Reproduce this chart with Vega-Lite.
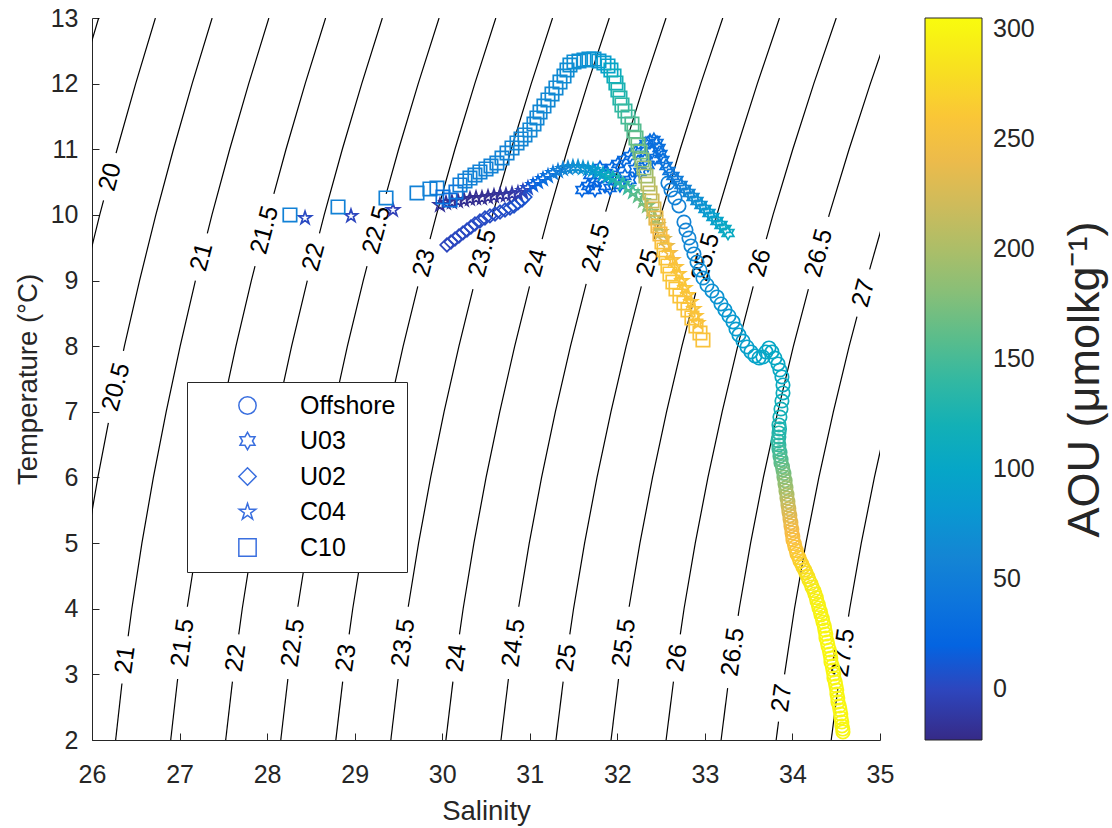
{
  "$schema": "https://vega.github.io/schema/vega-lite/v6.json",
  "width": 788,
  "height": 722,
  "autosize": {"type": "none"},
  "padding": {"left": 92, "top": 18, "right": 232, "bottom": 88},
  "background": "white",
  "config": {
    "view": {"stroke": null},
    "axis": {"labelFont": "Liberation Sans", "titleFont": "Liberation Sans", "titleFontWeight": "normal", "grid": false},
    "legend": {"labelFont": "Liberation Sans"},
    "text": {"font": "Liberation Sans"}
  },
  "datasets": {
    "contours": [
      {"seg": "19.5a", "S": 25.644, "T": 11}, {"seg": "19.5a", "S": 25.853, "T": 12}, {"seg": "19.5a", "S": 26.076, "T": 13},
      {"seg": "20a", "S": 25.904, "T": 9}, {"seg": "20a", "S": 26.088, "T": 10}, {"seg": "20a", "S": 26.132, "T": 10.22},
      {"seg": "20b", "S": 26.275, "T": 10.94}, {"seg": "20b", "S": 26.287, "T": 11}, {"seg": "20b", "S": 26.499, "T": 12}, {"seg": "20b", "S": 26.724, "T": 13},
      {"seg": "20.5a", "S": 25.938, "T": 5}, {"seg": "20.5a", "S": 26.067, "T": 6}, {"seg": "20.5a", "S": 26.187, "T": 6.83},
      {"seg": "20.5b", "S": 26.359, "T": 7.93}, {"seg": "20.5b", "S": 26.370, "T": 8}, {"seg": "20.5b", "S": 26.543, "T": 9}, {"seg": "20.5b", "S": 26.729, "T": 10}, {"seg": "20.5b", "S": 26.930, "T": 11}, {"seg": "20.5b", "S": 27.144, "T": 12}, {"seg": "20.5b", "S": 27.372, "T": 13},
      {"seg": "21a", "S": 26.270, "T": 2}, {"seg": "21a", "S": 26.342, "T": 2.86},
      {"seg": "21b", "S": 26.413, "T": 3.58}, {"seg": "21b", "S": 26.455, "T": 4}, {"seg": "21b", "S": 26.570, "T": 5}, {"seg": "21b", "S": 26.701, "T": 6}, {"seg": "21b", "S": 26.847, "T": 7}, {"seg": "21b", "S": 27.007, "T": 8}, {"seg": "21b", "S": 27.181, "T": 9},
      {"seg": "21c", "S": 27.317, "T": 9.72}, {"seg": "21c", "S": 27.370, "T": 10}, {"seg": "21c", "S": 27.573, "T": 11}, {"seg": "21c", "S": 27.790, "T": 12}, {"seg": "21c", "S": 28.020, "T": 13},
      {"seg": "21.5a", "S": 26.899, "T": 2}, {"seg": "21.5a", "S": 26.978, "T": 2.93},
      {"seg": "21.5b", "S": 27.089, "T": 4.03}, {"seg": "21.5b", "S": 27.202, "T": 5}, {"seg": "21.5b", "S": 27.335, "T": 6}, {"seg": "21.5b", "S": 27.482, "T": 7}, {"seg": "21.5b", "S": 27.644, "T": 8}, {"seg": "21.5b", "S": 27.820, "T": 9}, {"seg": "21.5b", "S": 27.862, "T": 9.22},
      {"seg": "21.5c", "S": 28.077, "T": 10.32}, {"seg": "21.5c", "S": 28.216, "T": 11}, {"seg": "21.5c", "S": 28.435, "T": 12}, {"seg": "21.5c", "S": 28.668, "T": 13},
      {"seg": "22a", "S": 27.527, "T": 2}, {"seg": "22a", "S": 27.604, "T": 2.89},
      {"seg": "22b", "S": 27.676, "T": 3.61}, {"seg": "22b", "S": 27.716, "T": 4}, {"seg": "22b", "S": 27.834, "T": 5}, {"seg": "22b", "S": 27.968, "T": 6}, {"seg": "22b", "S": 28.116, "T": 7}, {"seg": "22b", "S": 28.280, "T": 8}, {"seg": "22b", "S": 28.459, "T": 9},
      {"seg": "22c", "S": 28.598, "T": 9.72}, {"seg": "22c", "S": 28.652, "T": 10}, {"seg": "22c", "S": 28.859, "T": 11}, {"seg": "22c", "S": 29.081, "T": 12}, {"seg": "22c", "S": 29.316, "T": 13},
      {"seg": "22.5a", "S": 28.156, "T": 2}, {"seg": "22.5a", "S": 28.237, "T": 2.93},
      {"seg": "22.5b", "S": 28.351, "T": 4.03}, {"seg": "22.5b", "S": 28.466, "T": 5}, {"seg": "22.5b", "S": 28.601, "T": 6}, {"seg": "22.5b", "S": 28.752, "T": 7}, {"seg": "22.5b", "S": 28.917, "T": 8}, {"seg": "22.5b", "S": 29.098, "T": 9}, {"seg": "22.5b", "S": 29.141, "T": 9.22},
      {"seg": "22.5c", "S": 29.360, "T": 10.32}, {"seg": "22.5c", "S": 29.502, "T": 11}, {"seg": "22.5c", "S": 29.726, "T": 12}, {"seg": "22.5c", "S": 29.964, "T": 13},
      {"seg": "23a", "S": 28.785, "T": 2}, {"seg": "23a", "S": 28.863, "T": 2.89},
      {"seg": "23b", "S": 28.937, "T": 3.61}, {"seg": "23b", "S": 28.978, "T": 4}, {"seg": "23b", "S": 29.098, "T": 5}, {"seg": "23b", "S": 29.235, "T": 6}, {"seg": "23b", "S": 29.387, "T": 7}, {"seg": "23b", "S": 29.554, "T": 8}, {"seg": "23b", "S": 29.721, "T": 8.91},
      {"seg": "23c", "S": 29.861, "T": 9.63}, {"seg": "23c", "S": 29.934, "T": 10}, {"seg": "23c", "S": 30.145, "T": 11}, {"seg": "23c", "S": 30.372, "T": 12}, {"seg": "23c", "S": 30.612, "T": 13},
      {"seg": "23.5a", "S": 29.413, "T": 2}, {"seg": "23.5a", "S": 29.496, "T": 2.93},
      {"seg": "23.5b", "S": 29.612, "T": 4.03}, {"seg": "23.5b", "S": 29.730, "T": 5}, {"seg": "23.5b", "S": 29.868, "T": 6}, {"seg": "23.5b", "S": 30.021, "T": 7}, {"seg": "23.5b", "S": 30.191, "T": 8}, {"seg": "23.5b", "S": 30.351, "T": 8.87},
      {"seg": "23.5c", "S": 30.568, "T": 9.97}, {"seg": "23.5c", "S": 30.574, "T": 10}, {"seg": "23.5c", "S": 30.788, "T": 11}, {"seg": "23.5c", "S": 31.017, "T": 12}, {"seg": "23.5c", "S": 31.260, "T": 13},
      {"seg": "24a", "S": 30.042, "T": 2}, {"seg": "24a", "S": 30.122, "T": 2.89},
      {"seg": "24b", "S": 30.197, "T": 3.61}, {"seg": "24b", "S": 30.239, "T": 4}, {"seg": "24b", "S": 30.362, "T": 5}, {"seg": "24b", "S": 30.501, "T": 6}, {"seg": "24b", "S": 30.657, "T": 7}, {"seg": "24b", "S": 30.828, "T": 8}, {"seg": "24b", "S": 30.997, "T": 8.91},
      {"seg": "24c", "S": 31.141, "T": 9.63}, {"seg": "24c", "S": 31.215, "T": 10}, {"seg": "24c", "S": 31.431, "T": 11}, {"seg": "24c", "S": 31.662, "T": 12}, {"seg": "24c", "S": 31.908, "T": 13},
      {"seg": "24.5a", "S": 30.671, "T": 2}, {"seg": "24.5a", "S": 30.756, "T": 2.93},
      {"seg": "24.5b", "S": 30.874, "T": 4.03}, {"seg": "24.5b", "S": 30.994, "T": 5}, {"seg": "24.5b", "S": 31.135, "T": 6}, {"seg": "24.5b", "S": 31.292, "T": 7}, {"seg": "24.5b", "S": 31.465, "T": 8}, {"seg": "24.5b", "S": 31.644, "T": 8.95},
      {"seg": "24.5c", "S": 31.867, "T": 10.05}, {"seg": "24.5c", "S": 32.075, "T": 11}, {"seg": "24.5c", "S": 32.308, "T": 12}, {"seg": "24.5c", "S": 32.556, "T": 13},
      {"seg": "25a", "S": 31.299, "T": 2}, {"seg": "25a", "S": 31.381, "T": 2.89},
      {"seg": "25b", "S": 31.457, "T": 3.61}, {"seg": "25b", "S": 31.500, "T": 4}, {"seg": "25b", "S": 31.626, "T": 5}, {"seg": "25b", "S": 31.768, "T": 6}, {"seg": "25b", "S": 31.927, "T": 7}, {"seg": "25b", "S": 32.101, "T": 8}, {"seg": "25b", "S": 32.274, "T": 8.91},
      {"seg": "25c", "S": 32.421, "T": 9.63}, {"seg": "25c", "S": 32.497, "T": 10}, {"seg": "25c", "S": 32.718, "T": 11}, {"seg": "25c", "S": 32.953, "T": 12}, {"seg": "25c", "S": 33.204, "T": 13},
      {"seg": "25.5a", "S": 31.928, "T": 2}, {"seg": "25.5a", "S": 32.014, "T": 2.93},
      {"seg": "25.5b", "S": 32.135, "T": 4.03}, {"seg": "25.5b", "S": 32.258, "T": 5}, {"seg": "25.5b", "S": 32.402, "T": 6}, {"seg": "25.5b", "S": 32.562, "T": 7}, {"seg": "25.5b", "S": 32.738, "T": 8}, {"seg": "25.5b", "S": 32.894, "T": 8.81},
      {"seg": "25.5c", "S": 33.118, "T": 9.91}, {"seg": "25.5c", "S": 33.137, "T": 10}, {"seg": "25.5c", "S": 33.361, "T": 11}, {"seg": "25.5c", "S": 33.599, "T": 12}, {"seg": "25.5c", "S": 33.852, "T": 13},
      {"seg": "26a", "S": 32.557, "T": 2}, {"seg": "26a", "S": 32.641, "T": 2.89},
      {"seg": "26b", "S": 32.719, "T": 3.61}, {"seg": "26b", "S": 32.762, "T": 4}, {"seg": "26b", "S": 32.890, "T": 5}, {"seg": "26b", "S": 33.035, "T": 6}, {"seg": "26b", "S": 33.197, "T": 7}, {"seg": "26b", "S": 33.375, "T": 8}, {"seg": "26b", "S": 33.552, "T": 8.91},
      {"seg": "26c", "S": 33.701, "T": 9.63}, {"seg": "26c", "S": 33.778, "T": 10}, {"seg": "26c", "S": 34.004, "T": 11}, {"seg": "26c", "S": 34.244, "T": 12}, {"seg": "26c", "S": 34.500, "T": 13},
      {"seg": "26.5a", "S": 33.185, "T": 2}, {"seg": "26.5a", "S": 33.260, "T": 2.79},
      {"seg": "26.5b", "S": 33.380, "T": 3.89}, {"seg": "26.5b", "S": 33.392, "T": 4}, {"seg": "26.5b", "S": 33.522, "T": 5}, {"seg": "26.5b", "S": 33.668, "T": 6}, {"seg": "26.5b", "S": 33.832, "T": 7}, {"seg": "26.5b", "S": 34.011, "T": 8}, {"seg": "26.5b", "S": 34.182, "T": 8.87},
      {"seg": "26.5c", "S": 34.413, "T": 9.97}, {"seg": "26.5c", "S": 34.419, "T": 10}, {"seg": "26.5c", "S": 34.647, "T": 11}, {"seg": "26.5c", "S": 34.890, "T": 12}, {"seg": "26.5c", "S": 35.148, "T": 13},
      {"seg": "27a", "S": 33.814, "T": 2}, {"seg": "27a", "S": 33.841, "T": 2.28},
      {"seg": "27b", "S": 33.910, "T": 3}, {"seg": "27b", "S": 34.023, "T": 4}, {"seg": "27b", "S": 34.154, "T": 5}, {"seg": "27b", "S": 34.302, "T": 6}, {"seg": "27b", "S": 34.467, "T": 7}, {"seg": "27b", "S": 34.648, "T": 8}, {"seg": "27b", "S": 34.737, "T": 8.45},
      {"seg": "27c", "S": 34.882, "T": 9.17}, {"seg": "27c", "S": 35.060, "T": 10},
      {"seg": "27.5a", "S": 34.443, "T": 2}, {"seg": "27.5a", "S": 34.518, "T": 2.78},
      {"seg": "27.5b", "S": 34.640, "T": 3.88}, {"seg": "27.5b", "S": 34.654, "T": 4}, {"seg": "27.5b", "S": 34.786, "T": 5}, {"seg": "27.5b", "S": 34.936, "T": 6}, {"seg": "27.5b", "S": 35.102, "T": 7}
    ],
    "labels": [
      {"label": "21", "row": "lower", "S": 26.376, "T": 3.22},
      {"label": "21.5", "row": "lower", "S": 27.033, "T": 3.48},
      {"label": "22", "row": "lower", "S": 27.639, "T": 3.25},
      {"label": "22.5", "row": "lower", "S": 28.293, "T": 3.48},
      {"label": "23", "row": "lower", "S": 28.899, "T": 3.25},
      {"label": "23.5", "row": "lower", "S": 29.553, "T": 3.48},
      {"label": "24", "row": "lower", "S": 30.159, "T": 3.25},
      {"label": "24.5", "row": "lower", "S": 30.814, "T": 3.48},
      {"label": "25", "row": "lower", "S": 31.418, "T": 3.25},
      {"label": "25.5", "row": "lower", "S": 32.074, "T": 3.48},
      {"label": "26", "row": "lower", "S": 32.679, "T": 3.25},
      {"label": "26.5", "row": "lower", "S": 33.318, "T": 3.34},
      {"label": "27", "row": "lower", "S": 33.875, "T": 2.64},
      {"label": "27.5", "row": "lower", "S": 34.577, "T": 3.33},
      {"label": "20", "row": "upper", "S": 26.203, "T": 10.58},
      {"label": "20.5", "row": "upper", "S": 26.271, "T": 7.38},
      {"label": "21", "row": "upper", "S": 27.249, "T": 9.36},
      {"label": "21.5", "row": "upper", "S": 27.967, "T": 9.77},
      {"label": "22", "row": "upper", "S": 28.528, "T": 9.36},
      {"label": "22.5", "row": "upper", "S": 29.248, "T": 9.77},
      {"label": "23", "row": "upper", "S": 29.790, "T": 9.27},
      {"label": "23.5", "row": "upper", "S": 30.459, "T": 9.42},
      {"label": "24", "row": "upper", "S": 31.068, "T": 9.27},
      {"label": "24.5", "row": "upper", "S": 31.755, "T": 9.50},
      {"label": "25", "row": "upper", "S": 32.347, "T": 9.27},
      {"label": "25.5", "row": "upper", "S": 33.005, "T": 9.36},
      {"label": "26", "row": "upper", "S": 33.625, "T": 9.27},
      {"label": "26.5", "row": "upper", "S": 34.296, "T": 9.42},
      {"label": "27", "row": "upper", "S": 34.808, "T": 8.81}
    ],
    "pts": [
      {"st": "Offshore", "S": 32.578, "T": 10.486, "AOU": 52},
      {"st": "Offshore", "S": 32.613, "T": 10.380, "AOU": 53},
      {"st": "Offshore", "S": 32.658, "T": 10.258, "AOU": 55},
      {"st": "Offshore", "S": 32.704, "T": 10.136, "AOU": 57},
      {"st": "Offshore", "S": 32.761, "T": 9.892, "AOU": 58},
      {"st": "Offshore", "S": 32.784, "T": 9.770, "AOU": 60},
      {"st": "Offshore", "S": 32.818, "T": 9.648, "AOU": 61},
      {"st": "Offshore", "S": 32.841, "T": 9.527, "AOU": 62},
      {"st": "Offshore", "S": 32.875, "T": 9.405, "AOU": 64},
      {"st": "Offshore", "S": 32.910, "T": 9.283, "AOU": 66},
      {"st": "Offshore", "S": 32.944, "T": 9.161, "AOU": 68},
      {"st": "Offshore", "S": 32.978, "T": 9.039, "AOU": 70},
      {"st": "Offshore", "S": 33.024, "T": 8.932, "AOU": 72},
      {"st": "Offshore", "S": 33.081, "T": 8.841, "AOU": 74},
      {"st": "Offshore", "S": 33.138, "T": 8.750, "AOU": 76},
      {"st": "Offshore", "S": 33.184, "T": 8.643, "AOU": 78},
      {"st": "Offshore", "S": 33.229, "T": 8.552, "AOU": 80},
      {"st": "Offshore", "S": 33.275, "T": 8.460, "AOU": 82},
      {"st": "Offshore", "S": 33.321, "T": 8.369, "AOU": 84},
      {"st": "Offshore", "S": 33.355, "T": 8.262, "AOU": 86},
      {"st": "Offshore", "S": 33.389, "T": 8.171, "AOU": 88},
      {"st": "Offshore", "S": 33.435, "T": 8.079, "AOU": 90},
      {"st": "Offshore", "S": 33.481, "T": 7.988, "AOU": 92},
      {"st": "Offshore", "S": 33.526, "T": 7.912, "AOU": 94},
      {"st": "Offshore", "S": 33.572, "T": 7.851, "AOU": 96},
      {"st": "Offshore", "S": 33.618, "T": 7.820, "AOU": 98},
      {"st": "Offshore", "S": 33.663, "T": 7.835, "AOU": 100},
      {"st": "Offshore", "S": 33.698, "T": 7.912, "AOU": 101},
      {"st": "Offshore", "S": 33.732, "T": 7.973, "AOU": 102},
      {"st": "Offshore", "S": 33.766, "T": 7.912, "AOU": 103},
      {"st": "Offshore", "S": 33.800, "T": 7.820, "AOU": 104},
      {"st": "Offshore", "S": 33.835, "T": 7.729, "AOU": 105},
      {"st": "Offshore", "S": 33.857, "T": 7.637, "AOU": 106},
      {"st": "Offshore", "S": 33.880, "T": 7.531, "AOU": 107},
      {"st": "Offshore", "S": 33.892, "T": 7.409, "AOU": 109},
      {"st": "Offshore", "S": 33.892, "T": 7.287, "AOU": 112},
      {"st": "Offshore", "S": 33.880, "T": 7.165, "AOU": 115},
      {"st": "Offshore", "S": 33.869, "T": 7.043, "AOU": 118},
      {"st": "Offshore", "S": 33.857, "T": 6.921, "AOU": 121},
      {"st": "Offshore", "S": 33.846, "T": 6.800, "AOU": 125},
      {"st": "Offshore", "S": 33.852, "T": 6.740, "AOU": 127},
      {"st": "Offshore", "S": 33.846, "T": 6.678, "AOU": 130},
      {"st": "Offshore", "S": 33.845, "T": 6.615, "AOU": 133},
      {"st": "Offshore", "S": 33.835, "T": 6.556, "AOU": 136},
      {"st": "Offshore", "S": 33.845, "T": 6.495, "AOU": 140},
      {"st": "Offshore", "S": 33.846, "T": 6.434, "AOU": 144},
      {"st": "Offshore", "S": 33.858, "T": 6.380, "AOU": 148},
      {"st": "Offshore", "S": 33.857, "T": 6.327, "AOU": 152},
      {"st": "Offshore", "S": 33.870, "T": 6.272, "AOU": 156},
      {"st": "Offshore", "S": 33.869, "T": 6.221, "AOU": 160},
      {"st": "Offshore", "S": 33.886, "T": 6.165, "AOU": 164},
      {"st": "Offshore", "S": 33.892, "T": 6.114, "AOU": 168},
      {"st": "Offshore", "S": 33.903, "T": 6.060, "AOU": 172},
      {"st": "Offshore", "S": 33.903, "T": 6.007, "AOU": 177},
      {"st": "Offshore", "S": 33.916, "T": 5.952, "AOU": 181},
      {"st": "Offshore", "S": 33.915, "T": 5.901, "AOU": 186},
      {"st": "Offshore", "S": 33.926, "T": 5.846, "AOU": 190},
      {"st": "Offshore", "S": 33.926, "T": 5.794, "AOU": 195},
      {"st": "Offshore", "S": 33.938, "T": 5.740, "AOU": 200},
      {"st": "Offshore", "S": 33.937, "T": 5.687, "AOU": 205},
      {"st": "Offshore", "S": 33.948, "T": 5.633, "AOU": 210},
      {"st": "Offshore", "S": 33.949, "T": 5.581, "AOU": 215},
      {"st": "Offshore", "S": 33.958, "T": 5.526, "AOU": 220},
      {"st": "Offshore", "S": 33.960, "T": 5.474, "AOU": 225},
      {"st": "Offshore", "S": 33.970, "T": 5.419, "AOU": 229},
      {"st": "Offshore", "S": 33.972, "T": 5.367, "AOU": 233},
      {"st": "Offshore", "S": 33.982, "T": 5.313, "AOU": 236},
      {"st": "Offshore", "S": 33.983, "T": 5.261, "AOU": 240},
      {"st": "Offshore", "S": 33.993, "T": 5.206, "AOU": 243},
      {"st": "Offshore", "S": 33.995, "T": 5.154, "AOU": 246},
      {"st": "Offshore", "S": 34.004, "T": 5.100, "AOU": 248},
      {"st": "Offshore", "S": 34.006, "T": 5.048, "AOU": 251},
      {"st": "Offshore", "S": 34.021, "T": 4.993, "AOU": 253},
      {"st": "Offshore", "S": 34.029, "T": 4.941, "AOU": 256},
      {"st": "Offshore", "S": 34.044, "T": 4.886, "AOU": 259},
      {"st": "Offshore", "S": 34.052, "T": 4.834, "AOU": 262},
      {"st": "Offshore", "S": 34.073, "T": 4.780, "AOU": 265},
      {"st": "Offshore", "S": 34.086, "T": 4.728, "AOU": 268},
      {"st": "Offshore", "S": 34.107, "T": 4.681, "AOU": 271},
      {"st": "Offshore", "S": 34.120, "T": 4.636, "AOU": 274},
      {"st": "Offshore", "S": 34.141, "T": 4.589, "AOU": 277},
      {"st": "Offshore", "S": 34.154, "T": 4.545, "AOU": 280},
      {"st": "Offshore", "S": 34.175, "T": 4.490, "AOU": 282},
      {"st": "Offshore", "S": 34.189, "T": 4.438, "AOU": 285},
      {"st": "Offshore", "S": 34.210, "T": 4.384, "AOU": 287},
      {"st": "Offshore", "S": 34.223, "T": 4.332, "AOU": 289},
      {"st": "Offshore", "S": 34.244, "T": 4.277, "AOU": 290},
      {"st": "Offshore", "S": 34.257, "T": 4.225, "AOU": 292},
      {"st": "Offshore", "S": 34.272, "T": 4.170, "AOU": 293},
      {"st": "Offshore", "S": 34.280, "T": 4.118, "AOU": 294},
      {"st": "Offshore", "S": 34.295, "T": 4.064, "AOU": 295},
      {"st": "Offshore", "S": 34.303, "T": 4.012, "AOU": 296},
      {"st": "Offshore", "S": 34.318, "T": 3.957, "AOU": 296},
      {"st": "Offshore", "S": 34.326, "T": 3.905, "AOU": 297},
      {"st": "Offshore", "S": 34.341, "T": 3.850, "AOU": 297},
      {"st": "Offshore", "S": 34.349, "T": 3.798, "AOU": 298},
      {"st": "Offshore", "S": 34.364, "T": 3.736, "AOU": 298},
      {"st": "Offshore", "S": 34.371, "T": 3.676, "AOU": 299},
      {"st": "Offshore", "S": 34.381, "T": 3.614, "AOU": 299},
      {"st": "Offshore", "S": 34.383, "T": 3.555, "AOU": 300},
      {"st": "Offshore", "S": 34.398, "T": 3.493, "AOU": 300},
      {"st": "Offshore", "S": 34.406, "T": 3.433, "AOU": 300},
      {"st": "Offshore", "S": 34.421, "T": 3.371, "AOU": 300},
      {"st": "Offshore", "S": 34.429, "T": 3.311, "AOU": 300},
      {"st": "Offshore", "S": 34.438, "T": 3.249, "AOU": 300},
      {"st": "Offshore", "S": 34.440, "T": 3.189, "AOU": 300},
      {"st": "Offshore", "S": 34.455, "T": 3.127, "AOU": 300},
      {"st": "Offshore", "S": 34.463, "T": 3.067, "AOU": 300},
      {"st": "Offshore", "S": 34.472, "T": 3.005, "AOU": 300},
      {"st": "Offshore", "S": 34.474, "T": 2.945, "AOU": 300},
      {"st": "Offshore", "S": 34.489, "T": 2.883, "AOU": 300},
      {"st": "Offshore", "S": 34.497, "T": 2.823, "AOU": 300},
      {"st": "Offshore", "S": 34.506, "T": 2.761, "AOU": 300},
      {"st": "Offshore", "S": 34.508, "T": 2.701, "AOU": 300},
      {"st": "Offshore", "S": 34.518, "T": 2.639, "AOU": 300},
      {"st": "Offshore", "S": 34.520, "T": 2.580, "AOU": 300},
      {"st": "Offshore", "S": 34.535, "T": 2.518, "AOU": 300},
      {"st": "Offshore", "S": 34.543, "T": 2.458, "AOU": 300},
      {"st": "Offshore", "S": 34.552, "T": 2.396, "AOU": 300},
      {"st": "Offshore", "S": 34.554, "T": 2.336, "AOU": 300},
      {"st": "Offshore", "S": 34.564, "T": 2.274, "AOU": 300},
      {"st": "Offshore", "S": 34.566, "T": 2.214, "AOU": 300},
      {"st": "Offshore", "S": 34.575, "T": 2.167, "AOU": 300},
      {"st": "Offshore", "S": 34.577, "T": 2.123, "AOU": 300},
      {"st": "U03", "S": 31.596, "T": 10.380, "AOU": 22},
      {"st": "U03", "S": 31.665, "T": 10.441, "AOU": 20},
      {"st": "U03", "S": 31.733, "T": 10.502, "AOU": 20},
      {"st": "U03", "S": 31.802, "T": 10.562, "AOU": 22},
      {"st": "U03", "S": 31.870, "T": 10.639, "AOU": 24},
      {"st": "U03", "S": 31.939, "T": 10.715, "AOU": 25},
      {"st": "U03", "S": 32.007, "T": 10.776, "AOU": 26},
      {"st": "U03", "S": 32.076, "T": 10.837, "AOU": 27},
      {"st": "U03", "S": 32.144, "T": 10.898, "AOU": 28},
      {"st": "U03", "S": 32.213, "T": 10.959, "AOU": 29},
      {"st": "U03", "S": 32.270, "T": 11.020, "AOU": 30},
      {"st": "U03", "S": 32.327, "T": 11.080, "AOU": 30},
      {"st": "U03", "S": 32.373, "T": 11.126, "AOU": 31},
      {"st": "U03", "S": 32.418, "T": 11.141, "AOU": 31},
      {"st": "U03", "S": 32.453, "T": 11.096, "AOU": 32},
      {"st": "U03", "S": 32.476, "T": 11.020, "AOU": 33},
      {"st": "U03", "S": 32.498, "T": 10.928, "AOU": 34},
      {"st": "U03", "S": 32.521, "T": 10.837, "AOU": 36},
      {"st": "U03", "S": 32.556, "T": 10.745, "AOU": 38},
      {"st": "U03", "S": 32.590, "T": 10.669, "AOU": 41},
      {"st": "U03", "S": 32.635, "T": 10.593, "AOU": 44},
      {"st": "U03", "S": 32.681, "T": 10.532, "AOU": 47},
      {"st": "U03", "S": 32.727, "T": 10.456, "AOU": 51},
      {"st": "U03", "S": 32.773, "T": 10.395, "AOU": 55},
      {"st": "U03", "S": 32.818, "T": 10.334, "AOU": 60},
      {"st": "U03", "S": 32.864, "T": 10.273, "AOU": 65},
      {"st": "U03", "S": 32.910, "T": 10.212, "AOU": 70},
      {"st": "U03", "S": 32.955, "T": 10.151, "AOU": 75},
      {"st": "U03", "S": 33.001, "T": 10.090, "AOU": 80},
      {"st": "U03", "S": 33.047, "T": 10.029, "AOU": 85},
      {"st": "U03", "S": 33.092, "T": 9.968, "AOU": 90},
      {"st": "U03", "S": 33.138, "T": 9.907, "AOU": 95},
      {"st": "U03", "S": 33.184, "T": 9.846, "AOU": 100},
      {"st": "U03", "S": 33.229, "T": 9.786, "AOU": 104},
      {"st": "U03", "S": 33.264, "T": 9.725, "AOU": 108},
      {"st": "U03", "S": 31.859, "T": 10.441, "AOU": 25},
      {"st": "U03", "S": 31.973, "T": 10.517, "AOU": 25},
      {"st": "U03", "S": 32.087, "T": 10.593, "AOU": 27},
      {"st": "U03", "S": 32.201, "T": 10.700, "AOU": 28},
      {"st": "U03", "S": 32.316, "T": 10.837, "AOU": 30},
      {"st": "U03", "S": 32.396, "T": 10.959, "AOU": 30},
      {"st": "U03", "S": 31.745, "T": 10.380, "AOU": 20},
      {"st": "U03", "S": 31.916, "T": 10.410, "AOU": 22},
      {"st": "U03", "S": 32.030, "T": 10.456, "AOU": 24},
      {"st": "U03", "S": 32.144, "T": 10.532, "AOU": 26},
      {"st": "U03", "S": 32.259, "T": 10.654, "AOU": 28},
      {"st": "U03", "S": 32.350, "T": 10.761, "AOU": 30},
      {"st": "U03", "S": 32.430, "T": 10.867, "AOU": 31},
      {"st": "U03", "S": 31.802, "T": 10.715, "AOU": 22},
      {"st": "U03", "S": 31.687, "T": 10.608, "AOU": 20},
      {"st": "U02", "S": 30.054, "T": 9.542, "AOU": 0},
      {"st": "U02", "S": 30.100, "T": 9.587, "AOU": 0},
      {"st": "U02", "S": 30.146, "T": 9.633, "AOU": 1},
      {"st": "U02", "S": 30.191, "T": 9.679, "AOU": 1},
      {"st": "U02", "S": 30.237, "T": 9.725, "AOU": 1},
      {"st": "U02", "S": 30.283, "T": 9.770, "AOU": 2},
      {"st": "U02", "S": 30.328, "T": 9.816, "AOU": 2},
      {"st": "U02", "S": 30.374, "T": 9.862, "AOU": 2},
      {"st": "U02", "S": 30.431, "T": 9.907, "AOU": 3},
      {"st": "U02", "S": 30.488, "T": 9.953, "AOU": 3},
      {"st": "U02", "S": 30.545, "T": 9.984, "AOU": 3},
      {"st": "U02", "S": 30.603, "T": 10.014, "AOU": 4},
      {"st": "U02", "S": 30.660, "T": 10.044, "AOU": 4},
      {"st": "U02", "S": 30.717, "T": 10.075, "AOU": 5},
      {"st": "U02", "S": 30.774, "T": 10.105, "AOU": 5},
      {"st": "U02", "S": 30.820, "T": 10.136, "AOU": 6},
      {"st": "U02", "S": 30.865, "T": 10.182, "AOU": 7},
      {"st": "U02", "S": 30.911, "T": 10.227, "AOU": 7},
      {"st": "U02", "S": 30.945, "T": 10.273, "AOU": 9},
      {"st": "C04", "S": 28.433, "T": 9.953, "AOU": 2},
      {"st": "C04", "S": 28.958, "T": 9.984, "AOU": 0},
      {"st": "C04", "S": 29.438, "T": 10.075, "AOU": -3},
      {"st": "C04", "S": 29.974, "T": 10.151, "AOU": -16},
      {"st": "C04", "S": 30.043, "T": 10.182, "AOU": -17},
      {"st": "C04", "S": 30.111, "T": 10.197, "AOU": -18},
      {"st": "C04", "S": 30.180, "T": 10.212, "AOU": -18},
      {"st": "C04", "S": 30.249, "T": 10.227, "AOU": -19},
      {"st": "C04", "S": 30.317, "T": 10.243, "AOU": -19},
      {"st": "C04", "S": 30.386, "T": 10.258, "AOU": -19},
      {"st": "C04", "S": 30.454, "T": 10.258, "AOU": -19},
      {"st": "C04", "S": 30.523, "T": 10.273, "AOU": -18},
      {"st": "C04", "S": 30.591, "T": 10.288, "AOU": -17},
      {"st": "C04", "S": 30.660, "T": 10.303, "AOU": -16},
      {"st": "C04", "S": 30.728, "T": 10.303, "AOU": -14},
      {"st": "C04", "S": 30.797, "T": 10.319, "AOU": -11},
      {"st": "C04", "S": 30.865, "T": 10.334, "AOU": -8},
      {"st": "C04", "S": 30.922, "T": 10.364, "AOU": -4},
      {"st": "C04", "S": 30.979, "T": 10.410, "AOU": 5},
      {"st": "C04", "S": 31.037, "T": 10.456, "AOU": 15},
      {"st": "C04", "S": 31.094, "T": 10.502, "AOU": 22},
      {"st": "C04", "S": 31.151, "T": 10.547, "AOU": 28},
      {"st": "C04", "S": 31.208, "T": 10.593, "AOU": 35},
      {"st": "C04", "S": 31.265, "T": 10.639, "AOU": 42},
      {"st": "C04", "S": 31.322, "T": 10.669, "AOU": 50},
      {"st": "C04", "S": 31.379, "T": 10.700, "AOU": 56},
      {"st": "C04", "S": 31.436, "T": 10.715, "AOU": 62},
      {"st": "C04", "S": 31.493, "T": 10.730, "AOU": 68},
      {"st": "C04", "S": 31.551, "T": 10.730, "AOU": 72},
      {"st": "C04", "S": 31.608, "T": 10.715, "AOU": 76},
      {"st": "C04", "S": 31.665, "T": 10.700, "AOU": 80},
      {"st": "C04", "S": 31.722, "T": 10.684, "AOU": 84},
      {"st": "C04", "S": 31.779, "T": 10.654, "AOU": 90},
      {"st": "C04", "S": 31.836, "T": 10.623, "AOU": 98},
      {"st": "C04", "S": 31.893, "T": 10.593, "AOU": 108},
      {"st": "C04", "S": 31.950, "T": 10.562, "AOU": 118},
      {"st": "C04", "S": 32.007, "T": 10.517, "AOU": 128},
      {"st": "C04", "S": 32.064, "T": 10.471, "AOU": 136},
      {"st": "C04", "S": 32.122, "T": 10.410, "AOU": 144},
      {"st": "C04", "S": 32.179, "T": 10.349, "AOU": 152},
      {"st": "C04", "S": 32.236, "T": 10.288, "AOU": 160},
      {"st": "C04", "S": 32.293, "T": 10.212, "AOU": 168},
      {"st": "C04", "S": 32.339, "T": 10.136, "AOU": 175},
      {"st": "C04", "S": 32.384, "T": 10.044, "AOU": 185},
      {"st": "C04", "S": 32.430, "T": 9.953, "AOU": 195},
      {"st": "C04", "S": 32.464, "T": 9.846, "AOU": 205},
      {"st": "C04", "S": 32.498, "T": 9.740, "AOU": 215},
      {"st": "C04", "S": 32.533, "T": 9.633, "AOU": 225},
      {"st": "C04", "S": 32.567, "T": 9.527, "AOU": 235},
      {"st": "C04", "S": 32.601, "T": 9.420, "AOU": 243},
      {"st": "C04", "S": 32.635, "T": 9.313, "AOU": 250},
      {"st": "C04", "S": 32.670, "T": 9.207, "AOU": 255},
      {"st": "C04", "S": 32.704, "T": 9.100, "AOU": 258},
      {"st": "C04", "S": 32.738, "T": 8.993, "AOU": 260},
      {"st": "C04", "S": 32.773, "T": 8.887, "AOU": 260},
      {"st": "C04", "S": 32.807, "T": 8.780, "AOU": 259},
      {"st": "C04", "S": 32.841, "T": 8.673, "AOU": 258},
      {"st": "C04", "S": 32.875, "T": 8.567, "AOU": 257},
      {"st": "C04", "S": 32.898, "T": 8.460, "AOU": 256},
      {"st": "C04", "S": 32.921, "T": 8.353, "AOU": 255},
      {"st": "C10", "S": 28.261, "T": 9.999, "AOU": 55},
      {"st": "C10", "S": 28.810, "T": 10.121, "AOU": 55},
      {"st": "C10", "S": 29.358, "T": 10.258, "AOU": 55},
      {"st": "C10", "S": 29.712, "T": 10.334, "AOU": 55},
      {"st": "C10", "S": 29.860, "T": 10.395, "AOU": 55},
      {"st": "C10", "S": 29.940, "T": 10.410, "AOU": 52},
      {"st": "C10", "S": 30.009, "T": 10.273, "AOU": 35},
      {"st": "C10", "S": 30.089, "T": 10.227, "AOU": 30},
      {"st": "C10", "S": 30.157, "T": 10.349, "AOU": 40},
      {"st": "C10", "S": 30.203, "T": 10.456, "AOU": 50},
      {"st": "C10", "S": 30.260, "T": 10.517, "AOU": 55},
      {"st": "C10", "S": 30.317, "T": 10.562, "AOU": 55},
      {"st": "C10", "S": 30.374, "T": 10.608, "AOU": 55},
      {"st": "C10", "S": 30.431, "T": 10.654, "AOU": 55},
      {"st": "C10", "S": 30.500, "T": 10.700, "AOU": 55},
      {"st": "C10", "S": 30.557, "T": 10.745, "AOU": 56},
      {"st": "C10", "S": 30.625, "T": 10.791, "AOU": 57},
      {"st": "C10", "S": 30.683, "T": 10.867, "AOU": 58},
      {"st": "C10", "S": 30.740, "T": 10.943, "AOU": 58},
      {"st": "C10", "S": 30.797, "T": 11.020, "AOU": 59},
      {"st": "C10", "S": 30.854, "T": 11.096, "AOU": 60},
      {"st": "C10", "S": 30.900, "T": 11.157, "AOU": 60},
      {"st": "C10", "S": 30.945, "T": 11.218, "AOU": 61},
      {"st": "C10", "S": 31.002, "T": 11.294, "AOU": 62},
      {"st": "C10", "S": 31.048, "T": 11.385, "AOU": 62},
      {"st": "C10", "S": 31.082, "T": 11.477, "AOU": 63},
      {"st": "C10", "S": 31.117, "T": 11.568, "AOU": 63},
      {"st": "C10", "S": 31.162, "T": 11.659, "AOU": 64},
      {"st": "C10", "S": 31.208, "T": 11.751, "AOU": 64},
      {"st": "C10", "S": 31.254, "T": 11.842, "AOU": 65},
      {"st": "C10", "S": 31.299, "T": 11.934, "AOU": 65},
      {"st": "C10", "S": 31.345, "T": 12.025, "AOU": 66},
      {"st": "C10", "S": 31.391, "T": 12.116, "AOU": 67},
      {"st": "C10", "S": 31.425, "T": 12.208, "AOU": 68},
      {"st": "C10", "S": 31.459, "T": 12.284, "AOU": 69},
      {"st": "C10", "S": 31.505, "T": 12.330, "AOU": 70},
      {"st": "C10", "S": 31.562, "T": 12.345, "AOU": 71},
      {"st": "C10", "S": 31.619, "T": 12.360, "AOU": 72},
      {"st": "C10", "S": 31.676, "T": 12.375, "AOU": 74},
      {"st": "C10", "S": 31.733, "T": 12.375, "AOU": 76},
      {"st": "C10", "S": 31.790, "T": 12.345, "AOU": 80},
      {"st": "C10", "S": 31.847, "T": 12.314, "AOU": 86},
      {"st": "C10", "S": 31.893, "T": 12.269, "AOU": 94},
      {"st": "C10", "S": 31.927, "T": 12.208, "AOU": 102},
      {"st": "C10", "S": 31.962, "T": 12.116, "AOU": 112},
      {"st": "C10", "S": 31.984, "T": 12.010, "AOU": 120},
      {"st": "C10", "S": 32.007, "T": 11.903, "AOU": 126},
      {"st": "C10", "S": 32.030, "T": 11.781, "AOU": 132},
      {"st": "C10", "S": 32.053, "T": 11.675, "AOU": 138},
      {"st": "C10", "S": 32.087, "T": 11.583, "AOU": 143},
      {"st": "C10", "S": 32.122, "T": 11.492, "AOU": 148},
      {"st": "C10", "S": 32.167, "T": 11.385, "AOU": 153},
      {"st": "C10", "S": 32.190, "T": 11.278, "AOU": 157},
      {"st": "C10", "S": 32.213, "T": 11.172, "AOU": 161},
      {"st": "C10", "S": 32.236, "T": 11.065, "AOU": 166},
      {"st": "C10", "S": 32.259, "T": 10.959, "AOU": 172},
      {"st": "C10", "S": 32.281, "T": 10.837, "AOU": 180},
      {"st": "C10", "S": 32.304, "T": 10.715, "AOU": 188},
      {"st": "C10", "S": 32.327, "T": 10.593, "AOU": 196},
      {"st": "C10", "S": 32.350, "T": 10.471, "AOU": 203},
      {"st": "C10", "S": 32.373, "T": 10.334, "AOU": 212},
      {"st": "C10", "S": 32.396, "T": 10.212, "AOU": 220},
      {"st": "C10", "S": 32.418, "T": 10.090, "AOU": 228},
      {"st": "C10", "S": 32.441, "T": 9.953, "AOU": 236},
      {"st": "C10", "S": 32.464, "T": 9.831, "AOU": 243},
      {"st": "C10", "S": 32.487, "T": 9.709, "AOU": 248},
      {"st": "C10", "S": 32.510, "T": 9.587, "AOU": 252},
      {"st": "C10", "S": 32.533, "T": 9.466, "AOU": 255},
      {"st": "C10", "S": 32.556, "T": 9.344, "AOU": 257},
      {"st": "C10", "S": 32.578, "T": 9.222, "AOU": 258},
      {"st": "C10", "S": 32.601, "T": 9.100, "AOU": 259},
      {"st": "C10", "S": 32.635, "T": 8.978, "AOU": 259},
      {"st": "C10", "S": 32.670, "T": 8.871, "AOU": 258},
      {"st": "C10", "S": 32.715, "T": 8.765, "AOU": 257},
      {"st": "C10", "S": 32.761, "T": 8.658, "AOU": 257},
      {"st": "C10", "S": 32.807, "T": 8.552, "AOU": 256},
      {"st": "C10", "S": 32.852, "T": 8.430, "AOU": 256},
      {"st": "C10", "S": 32.898, "T": 8.308, "AOU": 256},
      {"st": "C10", "S": 32.944, "T": 8.201, "AOU": 255},
      {"st": "C10", "S": 32.978, "T": 8.094, "AOU": 255}
    ]
  },
  "encoding": {
    "x": {
      "field": "S", "type": "quantitative",
      "scale": {"domain": [26, 35], "nice": false, "zero": false},
      "axis": {
        "title": "Salinity", "values": [26, 27, 28, 29, 30, 31, 32, 33, 34, 35],
        "tickSize": -7, "labelPadding": 29, "labelFontSize": 25, "titleFontSize": 27.5,
        "titlePadding": 10, "labelFlush": false, "labelOverlap": false, "labelBound": false,
        "domainColor": "#262626", "tickColor": "#262626", "labelColor": "#262626", "titleColor": "#262626",
        "domainWidth": 1, "tickWidth": 1
      }
    }
  },
  "layer": [
    {
      "data": {"name": "contours"},
      "mark": {"type": "line", "clip": true, "color": "black", "strokeWidth": 1.2},
      "encoding": {
        "y": {
          "field": "T", "type": "quantitative",
          "scale": {"domain": [2, 13], "nice": false, "zero": false},
          "axis": {
            "orient": "left", "title": "Temperature (°C)", "values": [2, 3, 4, 5, 6, 7, 8, 9, 10, 11, 12, 13],
            "tickSize": -7, "labelPadding": 21, "labelFontSize": 25, "titleFontSize": 27.5, "titlePadding": 8,
            "labelOverlap": false, "labelBound": false, "labelFlush": false,
            "domainColor": "#262626", "tickColor": "#262626", "labelColor": "#262626", "titleColor": "#262626"
          }
        },
        "detail": {"field": "seg", "type": "nominal"},
        "order": {"field": "T", "type": "quantitative"}
      }
    },
    {
      "data": {"name": "labels"},
      "transform": [{"filter": "datum.row == 'lower'"}],
      "mark": {"type": "text", "angle": 278, "align": "center", "baseline": "middle", "fontSize": 25, "color": "black", "font": "Liberation Sans"},
      "encoding": {
        "y": {"field": "T", "type": "quantitative", "axis": null},
        "text": {"field": "label", "type": "nominal"}
      }
    },
    {
      "data": {"name": "labels"},
      "transform": [{"filter": "datum.row == 'upper'"}],
      "mark": {"type": "text", "angle": 285, "align": "center", "baseline": "middle", "fontSize": 25, "color": "black", "font": "Liberation Sans"},
      "encoding": {
        "y": {"field": "T", "type": "quantitative", "axis": null},
        "text": {"field": "label", "type": "nominal"}
      }
    },
    {
      "data": {"name": "pts"},
      "mark": {"type": "point", "filled": false, "strokeWidth": 1.7, "size": 180, "opacity": 1, "clip": true},
      "encoding": {
        "y": {
          "field": "T", "type": "quantitative",
          "axis": {
            "orient": "right", "title": "AOU (μmolkg⁻¹)", "domain": false, "ticks": false, "labels": false,
            "titleFontSize": 45, "titleAngle": 270, "titlePadding": 218, "titleBaseline": "alphabetic", "titleColor": "#262626"
          }
        },
        "color": {
          "field": "AOU", "type": "quantitative",
          "scale": {
            "domain": [-23, -2.17, 18.65, 39.48, 60.30, 81.13, 101.95, 122.78, 143.60, 164.43, 185.25, 206.08, 226.90, 247.73, 268.56, 289.38, 305],
            "range": ["#352a87", "#3243ba", "#0363e1", "#0d75dc", "#1485d4", "#0998d1", "#06a7c6", "#15b1b4", "#38b99e", "#65be86", "#92bf73", "#b7bd64", "#d9ba56", "#f8bb44", "#fcce2e", "#f5eb18", "#f9fb0e"],
            "interpolate": "rgb"
          },
          "legend": {
            "orient": "none", "legendX": 833, "legendY": 0, "direction": "vertical",
            "gradientLength": 722, "gradientThickness": 57, "title": null, "padding": 0,
            "values": [0, 50, 100, 150, 200, 250, 300],
            "labelFontSize": 25, "labelColor": "#262626", "labelOffset": 11, "labelOverlap": false,
            "gradientStrokeColor": "#262626", "gradientStrokeWidth": 1
          }
        },
        "shape": {
          "field": "st", "type": "nominal",
          "scale": {
            "domain": ["Offshore", "U03", "U02", "C04", "C10"],
            "range": ["circle", "M0,-1L0.289,-0.5L0.866,-0.5L0.577,0L0.866,0.5L0.289,0.5L0,1L-0.289,0.5L-0.866,0.5L-0.577,0L-0.866,-0.5L-0.289,-0.5Z", "diamond", "M0,-1L0.225,-0.309L0.951,-0.309L0.363,0.118L0.588,0.809L0,0.382L-0.588,0.809L-0.363,0.118L-0.951,-0.309L-0.225,-0.309Z", "square"]
          },
          "legend": {
            "orient": "none", "legendX": 95, "legendY": 364, "title": null,
            "strokeColor": "#262626", "fillColor": "white", "padding": 11,
            "symbolSize": 300, "symbolStrokeColor": "#3a6fdf", "symbolFillColor": "transparent", "symbolStrokeWidth": 1.5,
            "symbolOffset": 37, "labelOffset": 40, "labelFontSize": 25, "labelColor": "black", "rowPadding": 9.5,
            "encode": {"symbols": {"update": {"stroke": {"value": "#3a6fdf"}, "fill": {"value": "transparent"}, "strokeWidth": {"value": 1.5}, "opacity": {"value": 1}}}}
          }
        }
      }
    }
  ],
  "resolve": {"axis": {"y": "independent"}}
}
